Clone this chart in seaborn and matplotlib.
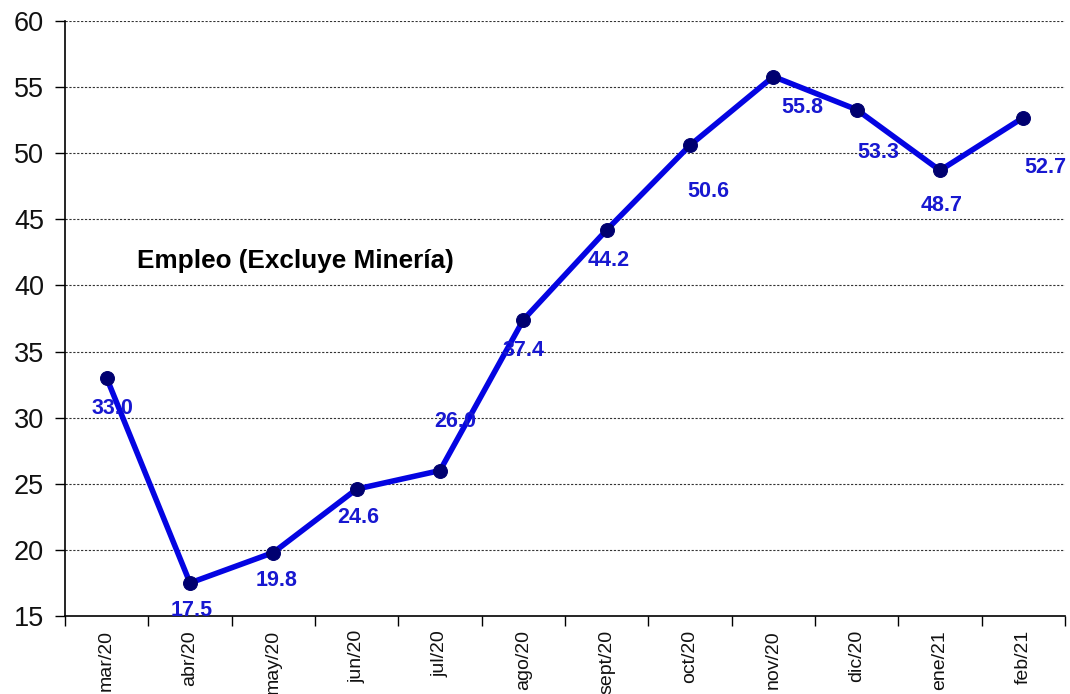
import matplotlib
matplotlib.use("Agg")
import matplotlib.pyplot as plt
import seaborn as sns
import numpy as np
import pandas as pd
from matplotlib.ticker import FixedLocator

months = ["mar/20", "abr/20", "may/20", "jun/20", "jul/20", "ago/20",
          "sept/20", "oct/20", "nov/20", "dic/20", "ene/21", "feb/21"]
values = [33.0, 17.5, 19.8, 24.6, 26.0, 37.4, 44.2, 50.6, 55.8, 53.3, 48.7, 52.7]
label_dx = [6, 2, 3, 2, 15, 0, 2, 18, 29, 22, 2, 22]
label_dy = [-30, -28, -28, -28, 49, -31, -31, -46, -31, -43, -35, -50]
title = "Empleo (Excluye Minería)"
yticks = [15, 20, 25, 30, 35, 40, 45, 50, 55, 60]

sns.set_theme(style="white")
plt.rcParams['font.family'] = ['Liberation Sans', 'DejaVu Sans']

fig = plt.figure(figsize=(10.7, 6.94), dpi=100)
ax = fig.add_axes([65/1070, 78/694, 1000/1070, 595/694])

df = pd.DataFrame({"pos": np.arange(len(months)), "val": values})
sns.lineplot(data=df, x="pos", y="val", ax=ax, color="#0404e2", linewidth=4,
             marker="o", markersize=10, markerfacecolor="#000070",
             markeredgecolor="#000070", sort=False)

for i, v in enumerate(values):
    ax.annotate(f"{v:.1f}", (i, v), xytext=(label_dx[i]*0.72, label_dy[i]*0.72),
                textcoords="offset points", ha="center", va="center",
                fontsize=15.5, fontweight="bold", color="#1818d0")

ax.set_xlim(-0.5, len(months) - 0.5)
ax.set_ylim(15, 60)
ax.set_yticks(yticks)
ax.set_yticklabels([str(t) for t in yticks], fontsize=19.5, color="#111111")
ax.set_xticks(np.arange(len(months)))
ax.set_xticklabels(months, rotation=90, fontsize=14, color="#111111")
ax.xaxis.set_minor_locator(FixedLocator(np.arange(len(months) + 1) - 0.5))
ax.tick_params(axis="x", which="major", length=0, pad=10)
ax.tick_params(axis="x", which="minor", length=7, width=1, color="black", direction="out", bottom=True)
ax.tick_params(axis="y", length=7, width=1, color="black", direction="out", left=True, pad=8)

for y in yticks[1:]:
    ax.axhline(y, color="#333333", linestyle=(0, (2, 1.5)), linewidth=0.8, zorder=0)

for s in ["top", "right"]:
    ax.spines[s].set_visible(False)
for s in ["left", "bottom"]:
    ax.spines[s].set_color("black")
    ax.spines[s].set_linewidth(1.2)

ax.set_xlabel("")
ax.set_ylabel("")
ax.text(0.072, 0.596, title, transform=ax.transAxes, fontsize=18.8,
        fontweight="bold", color="black", ha="left", va="center")

fig.savefig("out.png", dpi=100)
